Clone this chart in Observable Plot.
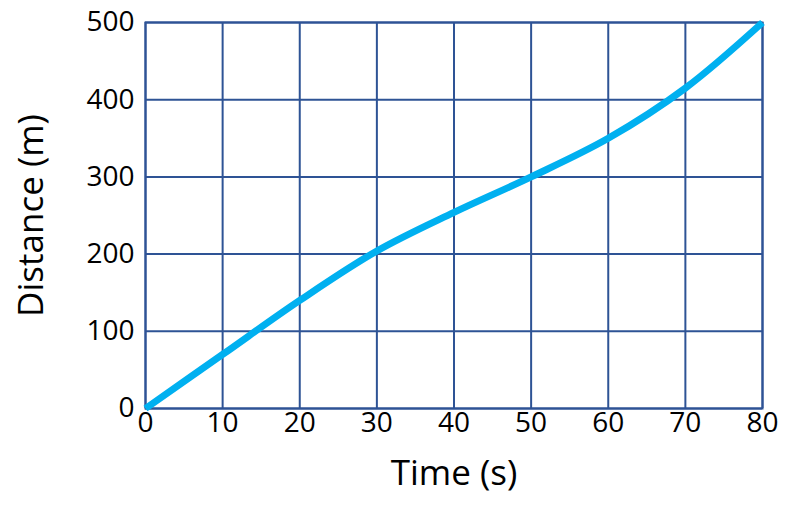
<!DOCTYPE html>
<html>
<head>
<meta charset="utf-8">
<script src="https://cdn.jsdelivr.net/npm/d3@7"></script>
<script src="https://cdn.jsdelivr.net/npm/@observablehq/plot@0.6"></script>
<style>
  html, body { margin: 0; padding: 0; background: #fff; }
  svg { display: block; }
</style>
</head>
<body>
<div id="chart"></div>
<script>
const times = [0, 10, 20, 30, 40, 50, 60, 70, 80];
const distances = [0, 70, 140, 204, 254, 300, 350, 415, 500];
const xTicks = [0, 10, 20, 30, 40, 50, 60, 70, 80];
const yTicks = [0, 100, 200, 300, 400, 500];
const xLabel = "Time (s)";
const yLabel = "Distance (m)";

const data = times.map((t, i) => ({t, d: distances[i]}));
const gridColor = "#2E5395";
const lineColor = "#00B0F0";

const chart = Plot.plot({
  width: 800,
  height: 505,
  marginLeft: 145,
  marginRight: 38,
  marginTop: 22,
  marginBottom: 97,
  style: {fontFamily: "'Open Sans', sans-serif", color: "#000", background: "#fff"},
  x: {domain: [0, 80], ticks: xTicks},
  y: {domain: [0, 500], ticks: yTicks},
  marks: [
    Plot.gridX(xTicks, {stroke: gridColor, strokeOpacity: 1, strokeWidth: 2}),
    Plot.gridY(yTicks, {stroke: gridColor, strokeOpacity: 1, strokeWidth: 2}),
    Plot.frame({stroke: gridColor, strokeWidth: 2}),
    Plot.axisX(xTicks, {tickSize: 0, tickPadding: 4, fontSize: 28, label: null, fill: "#000"}),
    Plot.axisY(yTicks, {tickSize: 0, tickPadding: 11, fontSize: 28, label: null, fill: "#000"}),
    Plot.line(data, {x: "t", y: "d", stroke: lineColor, strokeWidth: 7, curve: "catmull-rom", strokeLinecap: "butt"}),
    Plot.text([xLabel], {frameAnchor: "bottom", dy: 65, lineAnchor: "middle", textAnchor: "middle", fontSize: 35, fill: "#000"}),
    Plot.text([yLabel], {frameAnchor: "left", dx: -114, rotate: -90, textAnchor: "middle", lineAnchor: "middle", fontSize: 35, fill: "#000"})
  ]
});
document.getElementById("chart").appendChild(chart);
</script>
</body>
</html>
